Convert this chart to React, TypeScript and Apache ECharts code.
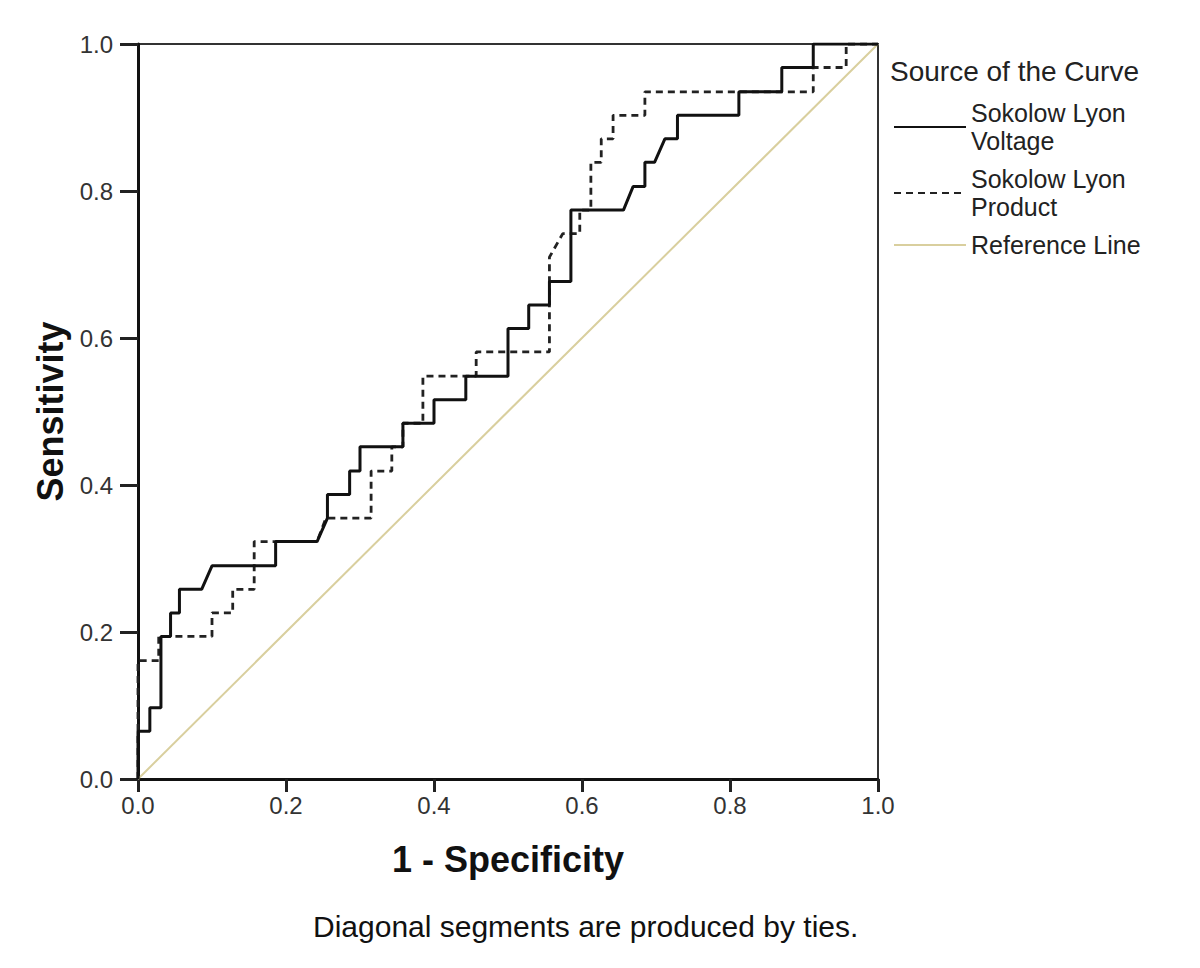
import React, { useEffect, useRef } from "react";
import * as echarts from "echarts";

const FONT = "'Liberation Sans', Arial, sans-serif";

const seriesNames = ["Sokolow Lyon\nVoltage", "Sokolow Lyon\nProduct", "Reference Line"];

// [1 - Specificity, Sensitivity]
const voltageCurve: [number, number][] = [
  [0, 0], [0, 0.065], [0.016, 0.065], [0.016, 0.097], [0.031, 0.097], [0.031, 0.194],
  [0.044, 0.194], [0.044, 0.226], [0.056, 0.226], [0.056, 0.258], [0.086, 0.258], [0.1, 0.29],
  [0.186, 0.29], [0.186, 0.323], [0.242, 0.323], [0.256, 0.355], [0.256, 0.387], [0.286, 0.387],
  [0.286, 0.419], [0.3, 0.419], [0.3, 0.452], [0.358, 0.452], [0.358, 0.484], [0.4, 0.484],
  [0.4, 0.516], [0.443, 0.516], [0.443, 0.548], [0.5, 0.548], [0.5, 0.613], [0.528, 0.613],
  [0.528, 0.645], [0.556, 0.645], [0.556, 0.677], [0.585, 0.677], [0.585, 0.774], [0.656, 0.774],
  [0.669, 0.806], [0.685, 0.806], [0.685, 0.839], [0.698, 0.839], [0.712, 0.871], [0.729, 0.871],
  [0.729, 0.903], [0.812, 0.903], [0.812, 0.935], [0.87, 0.935], [0.87, 0.968], [0.9125, 0.968],
  [0.9125, 1], [1, 1],
];

const productCurve: [number, number][] = [
  [0, 0], [0, 0.161], [0.028, 0.161], [0.028, 0.194], [0.1, 0.194], [0.1, 0.226],
  [0.128, 0.226], [0.128, 0.258], [0.157, 0.258], [0.157, 0.323], [0.242, 0.323], [0.254, 0.355],
  [0.315, 0.355], [0.315, 0.419], [0.343, 0.419], [0.343, 0.452], [0.358, 0.452], [0.358, 0.484],
  [0.385, 0.484], [0.385, 0.548], [0.457, 0.548], [0.457, 0.581], [0.556, 0.581], [0.556, 0.71],
  [0.574, 0.742], [0.597, 0.742], [0.597, 0.774], [0.612, 0.774], [0.612, 0.839], [0.626, 0.839],
  [0.626, 0.871], [0.642, 0.871], [0.642, 0.903], [0.685, 0.903], [0.685, 0.935], [0.9125, 0.935],
  [0.9125, 0.968], [0.957, 0.968], [0.957, 1], [1, 1],
];

const referenceLine: [number, number][] = [[0, 0], [1, 1]];

export default function App() {
  const ref = useRef<HTMLDivElement>(null);

  useEffect(() => {
    if (!ref.current) return;
    const chart = echarts.init(ref.current, null, { renderer: "svg" });
    const labelStyle = {
      color: "#333",
      fontSize: 24,
      fontFamily: FONT,
      formatter: (v: number) => v.toFixed(1),
    };
    const nameStyle = { fontFamily: FONT, fontWeight: "bold" as const, fontSize: 36, color: "#111" };
    chart.setOption({
      animation: false,
      backgroundColor: "#fff",
      grid: {
        left: 138,
        top: 44,
        width: 740,
        height: 735,
        show: true,
        borderColor: "#333",
        borderWidth: 2,
        backgroundColor: "transparent",
      },
      title: {
        text: "Source of the Curve",
        left: 885,
        top: 52,
        textStyle: { fontFamily: FONT, fontSize: 28, fontWeight: "normal", color: "#222" },
      },
      legend: {
        orient: "vertical",
        left: 888,
        top: 94,
        itemWidth: 72,
        itemHeight: 14,
        itemGap: 10,
        data: seriesNames,
        itemStyle: { color: "transparent", borderColor: "transparent", borderWidth: 0 },
        textStyle: { fontFamily: FONT, fontSize: 25, color: "#222", lineHeight: 28 },
      },
      xAxis: {
        type: "value",
        min: 0,
        max: 1,
        interval: 0.2,
        splitLine: { show: false },
        axisLine: { show: true, onZero: false, lineStyle: { color: "#111", width: 3 } },
        axisTick: { show: true, length: 13, lineStyle: { color: "#222", width: 3 } },
        axisLabel: { ...labelStyle, margin: 14 },
        name: "1 - Specificity",
        nameLocation: "middle",
        nameGap: 62,
        nameTextStyle: nameStyle,
      },
      yAxis: {
        type: "value",
        min: 0,
        max: 1,
        interval: 0.2,
        splitLine: { show: false },
        axisLine: { show: true, onZero: false, lineStyle: { color: "#111", width: 3 } },
        axisTick: { show: true, length: 18, lineStyle: { color: "#222", width: 3 } },
        axisLabel: { ...labelStyle, margin: 25 },
        name: "Sensitivity",
        nameLocation: "middle",
        nameGap: 68,
        nameTextStyle: nameStyle,
      },
      graphic: [
        {
          type: "text",
          left: 313,
          top: 911,
          style: {
            text: "Diagonal segments are produced by ties.",
            fontFamily: FONT,
            fontSize: 30,
            fill: "#111",
          },
        },
      ],
      series: [
        {
          name: seriesNames[2],
          type: "line",
          data: referenceLine,
          symbol: "none",
          lineStyle: { color: "#d9cf9e", width: 2 },
          itemStyle: { color: "#d9cf9e" },
          z: 1,
        },
        {
          name: seriesNames[1],
          type: "line",
          data: productCurve,
          symbol: "none",
          lineStyle: { color: "#222", width: 2.8, type: [7, 5] },
          itemStyle: { color: "#222" },
          z: 2,
        },
        {
          name: seriesNames[0],
          type: "line",
          data: voltageCurve,
          symbol: "none",
          lineStyle: { color: "#111", width: 3 },
          itemStyle: { color: "#111" },
          z: 3,
        },
      ],
    });
    return () => chart.dispose();
  }, []);

  return (
    <div
      ref={ref}
      style={{ position: "absolute", left: 0, top: 0, width: 1200, height: 968, background: "#fff" }}
    />
  );
}
